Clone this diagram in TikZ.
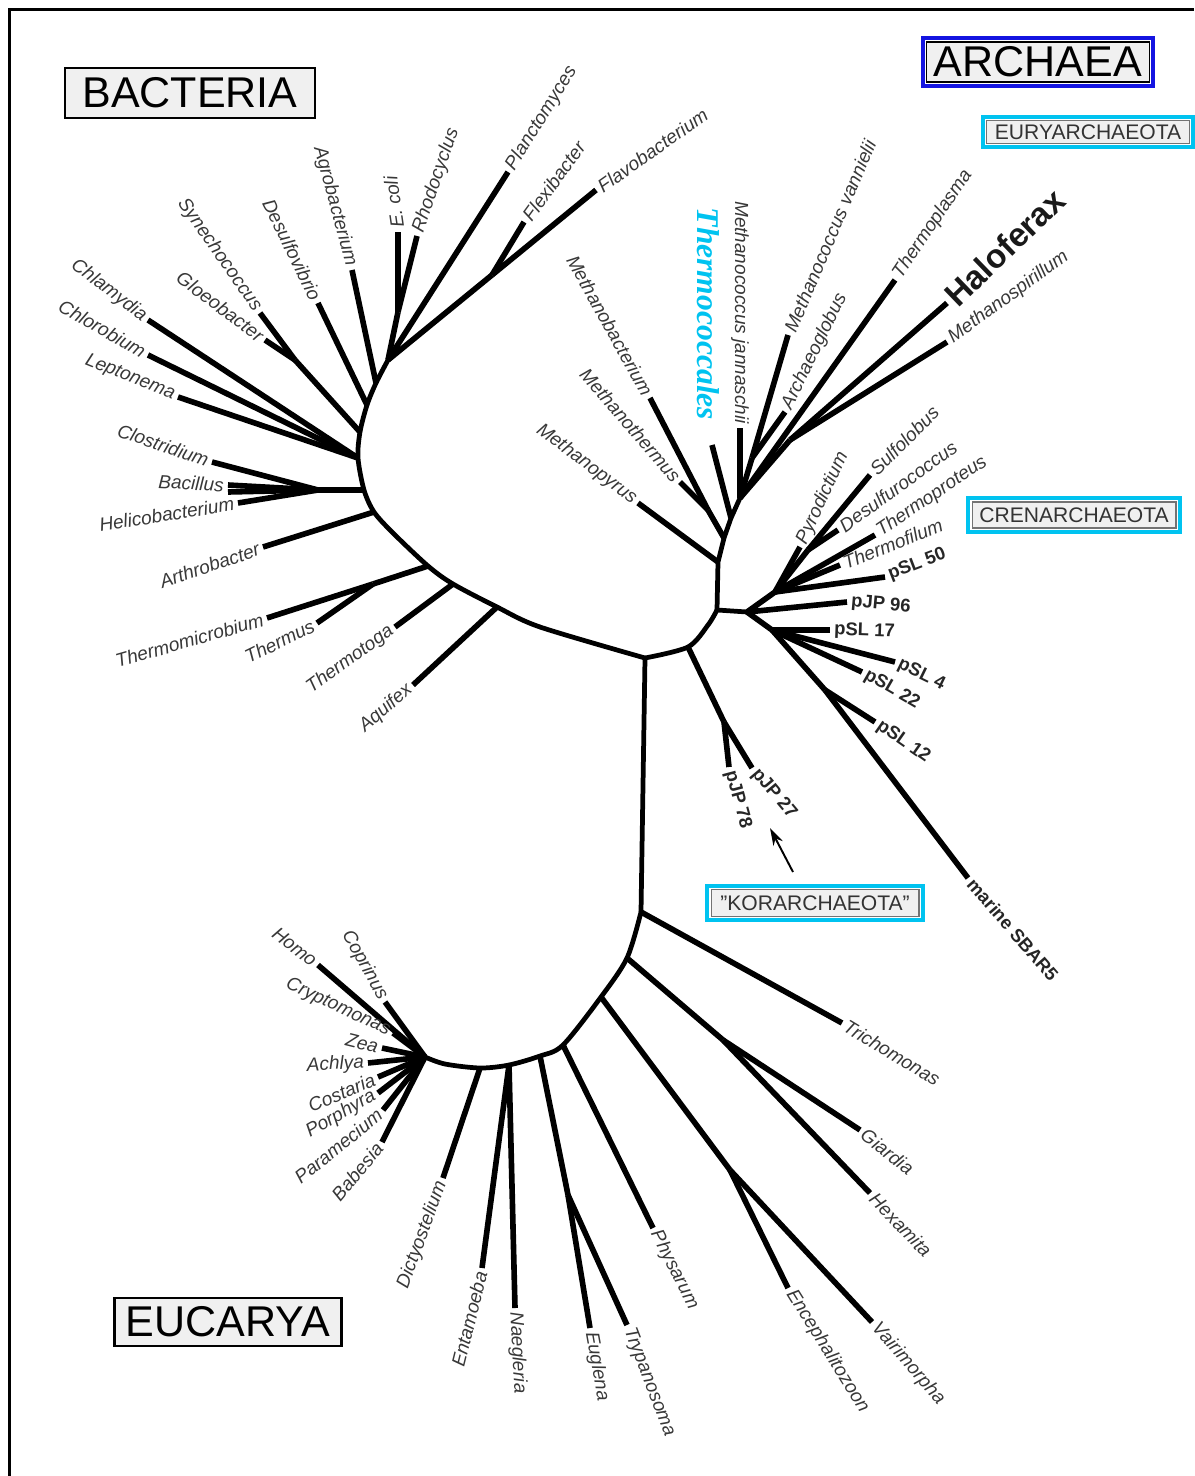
\documentclass[tikz,border=0pt]{standalone}
\usepackage{fontspec}
\setmainfont{Liberation Sans}
\newfontfamily\thermofont{Liberation Serif}
\usepackage{tikz}
\usetikzlibrary{positioning, arrows.meta, calc, fit}
\definecolor{skycyan}{RGB}{0,195,240}
\definecolor{archblue}{RGB}{20,20,225}

\begin{document}
\begin{tikzpicture}[x=0.02cm, y=-0.02cm,
    br/.style={line width=3.2pt},
    bb/.style={line width=2.7pt, line join=round},
    lab/.style={font=\fontsize{10.8}{12}\selectfont\itshape, text=black!78, inner sep=2.2pt},
    labl/.style={lab, anchor=east},
    labr/.style={lab, anchor=west},
    clone/.style={font=\fontsize{10.5}{12}\selectfont\bfseries, text=black!85, inner sep=2.2pt, anchor=west},
    halo/.style={font=\fontsize{19}{22}\selectfont\bfseries, text=black!90, inner sep=2pt, anchor=west},
    thermo/.style={font=\fontsize{18}{20}\selectfont\thermofont\bfseries\itshape, text=skycyan,
                   fill=white, inner sep=1pt},
    domainbox/.style={draw, line width=1.4pt, fill=gray!12, font=\fontsize{24.5}{28}\selectfont, inner sep=0pt},
    phylbox/.style={draw=black!55, line width=0.6pt, fill=gray!12, font=\fontsize{12}{14}\selectfont,
                    text=black!80, inner sep=0pt},
    cyanframe/.style={draw=skycyan, line width=2.3pt, inner sep=1.8pt},
    arr/.style={-{Stealth[length=10pt, width=6pt]}, line width=1.1pt}]

    \useasboundingbox (0,0) rectangle (1194,1476);
    \draw[line width=1.7pt] (9.5,1476) -- (9.5,9.5) -- (1194,9.5);

    % Domain and phylum boxes
    \node[domainbox, minimum width=5cm, minimum height=1cm] (bact) at (190,93) {BACTERIA};
    \node[domainbox, minimum width=4.54cm, minimum height=0.96cm] (euca) at (228,1322) {EUCARYA};
    \node[domainbox, line width=0.8pt, minimum width=4.46cm, minimum height=0.8cm] (arch) at (1038,62) {ARCHAEA};
    \node[draw=archblue, line width=2.3pt, inner sep=1.8pt, fit=(arch)] (archf) {};
    \node[phylbox, minimum width=4.06cm, minimum height=0.46cm] (eury) at (1088,132) {EURYARCHAEOTA};
    \node[cyanframe, fit=(eury)] (euryf) {};
    \node[phylbox, minimum width=4.08cm, minimum height=0.52cm] (cren) at (1074,515) {CRENARCHAEOTA};
    \node[cyanframe, fit=(cren)] (crenf) {};
    \node[phylbox, minimum width=4.16cm, minimum height=0.54cm] (kor) at (815,903) {\symbol{34}KORARCHAEOTA\symbol{34}};
    \node[cyanframe, fit=(kor)] (korf) {};

    % Root and bacterial arc
    \coordinate (B0) at (645,658);
    \coordinate (ba1) at (540,627);
    \coordinate (ba2) at (497,607);
    \coordinate (ba3) at (453,584);
    \coordinate (ba4) at (428,566);
    \coordinate (ba5) at (393,533);
    \coordinate (ba6) at (374,512);
    \coordinate (ba7) at (364,490);
    \coordinate (ba8) at (358,458);
    \coordinate (ba9) at (360,432);
    \coordinate (ba10) at (367,405);
    \coordinate (ba11) at (376,383);
    \coordinate (bt1) at (388,360);
    \draw[bb] plot[smooth] coordinates {(B0) (ba1) (ba2) (ba3) (ba4) (ba5) (ba6) (ba7) (ba8) (ba9) (ba10) (ba11) (bt1)};

    \coordinate (bt) at (373,584);
    \coordinate (bc) at (318,490);
    \coordinate (bs) at (295,360);
    \coordinate (be) at (398,312);
    \coordinate (bx) at (492,275);
    \draw[br] (ba4) -- (bt);
    \draw[br] (ba7) -- (bc);
    \draw[br] (ba9) -- (bs);
    \draw[br] (bt1) -- (be);
    \draw[br] (bt1) -- (bx);

    \foreach \nm/\pa/\tx/\ty/\rt/\lb in {
        chla/ba8/148/320/-37/Chlamydia, chlo/ba8/148/355/-30/Chlorobium,
        lept/ba8/178/397/-22/Leptonema, syne/bs/260/313/-55/Synechococcus,
        gloe/bs/265/340/-37/Gloeobacter, desu/ba10/318/303/-64/Desulfovibrio,
        agro/ba11/352/270/-75/Agrobacterium, clos/bc/212/462/-19/Clostridium,
        baci/bc/228/485/-3/Bacillus, heli/bc/238/503/9/Helicobacterium,
        arth/ba6/263/547/19/Arthrobacter, tmic/bt/267/618/16/Thermomicrobium,
        ther/bt/317/623/26/Thermus, ttog/ba3/395/627/36/Thermotoga,
        aqui/ba2/413/685/41/Aquifex}{
      \coordinate (\nm) at (\tx,\ty);
      \draw[br] (\pa) -- (\nm);
      \node[labl, rotate=\rt] (\nm-l) at (\nm) {\lb};
    }
    \coordinate (baci2) at (228,492);
    \draw[br] (bc) -- (baci2);

    \foreach \nm/\pa/\tx/\ty/\rt/\lb in {
        ecol/be/398/232/98/E. coli, rhod/be/417/236/71/Rhodocyclus,
        plan/bt1/508/172/58/Planctomyces, flex/bx/524/222/54/Flexibacter,
        flav/bx/596/190/35/Flavobacterium}{
      \coordinate (\nm) at (\tx,\ty);
      \draw[br] (\pa) -- (\nm);
      \node[labr, rotate=\rt] (\nm-l) at (\nm) {\lb};
    }

    % Archaeal stem
    \coordinate (ak) at (688,647);
    \coordinate (ae) at (708,625);
    \coordinate (A1) at (717,610);
    \coordinate (C0) at (747,612);
    \draw[bb] plot[smooth] coordinates {(B0) (ak) (ae) (A1)};
    \draw[bb] (A1) -- (C0);

    % Euryarchaeota
    \coordinate (ea1) at (718,562);
    \coordinate (ea2) at (724,538);
    \coordinate (ea3) at (731,518);
    \coordinate (ea4) at (740,498);
    \coordinate (em) at (708,510);
    \coordinate (ev) at (752,458);
    \coordinate (eh) at (790,440);
    \draw[bb] (A1) -- (ea1) -- (ea2) -- (ea3) -- (ea4);
    \draw[br] (ea2) -- (em);
    \draw[br] (ea4) -- (ev);
    \draw[br] (ea4) -- (eh);
    \coordinate (tcoc) at (712,445);
    \draw[br] (ea3) -- (tcoc);

    \foreach \nm/\pa/\tx/\ty/\rt/\lb in {
        mpyr/ea1/638/503/-37/Methanopyrus, mthe/em/680/482/-49/Methanothermus,
        mbac/em/650/398/-61/Methanobacterium, mjan/ea4/740/428/-90/Methanococcus jannaschii}{
      \coordinate (\nm) at (\tx,\ty);
      \draw[br] (\pa) -- (\nm);
      \node[labl, rotate=\rt] (\nm-l) at (\nm) {\lb};
    }
    \foreach \nm/\pa/\tx/\ty/\rt/\lb in {
        mvan/ev/788/335/67/Methanococcus vannielii, agl/ev/785/412/64/Archaeoglobus,
        tpla/ea4/895/280/56/Thermoplasma, mspi/eh/947/342/36/Methanospirillum}{
      \coordinate (\nm) at (\tx,\ty);
      \draw[br] (\pa) -- (\nm);
      \node[labr, rotate=\rt] (\nm-l) at (\nm) {\lb};
    }
    \coordinate (hfx) at (947,303);
    \draw[br] (eh) -- (hfx);
    \node[halo, rotate=44] (hfx-l) at (hfx) {Haloferax};
    \node[thermo, rotate=-90] (tcoc-l) at (708,314) {Thermococcales};

    % Crenarchaeota
    \coordinate (cu) at (775,592);
    \coordinate (cs) at (808,550);
    \coordinate (cl) at (772,630);
    \coordinate (cm) at (825,690);
    \draw[br] (C0) -- (cu);
    \draw[br] (cu) -- (cs);
    \draw[br] (C0) -- (cl);
    \draw[br] (cl) -- (cm);
    \foreach \nm/\pa/\tx/\ty/\rt/\lb in {
        pyro/cu/800/547/65/Pyrodictium, sulf/cs/870/475/45/Sulfolobus,
        dsfc/cs/838/530/36/Desulfurococcus, tprt/cu/875/535/34/Thermoproteus,
        tfil/cu/840/565/22/Thermofilum}{
      \coordinate (\nm) at (\tx,\ty);
      \draw[br] (\pa) -- (\nm);
      \node[labr, rotate=\rt] (\nm-l) at (\nm) {\lb};
    }

    % Korarchaeota
    \coordinate (kj) at (724,722);
    \draw[br] (ak) -- (kj);
    \foreach \nm/\pa/\tx/\ty/\rt/\lb in {
        psl50/cu/885/577/21/pSL 50, pjp96/C0/847/602/-5/pJP 96,
        psl17/cl/830/630/-2/pSL 17, psl4/cl/895/662/-26/pSL 4,
        psl22/cl/862/672/-30/pSL 22, psl12/cm/875/722/-35/pSL 12,
        sbar/cm/968/878/-49/marine SBAR5, pjp27/kj/752/768/-50/pJP 27,
        pjp78/kj/729/767/-75/pJP 78}{
      \coordinate (\nm) at (\tx,\ty);
      \draw[br] (\pa) -- (\nm);
      \node[clone, rotate=\rt] (\nm-l) at (\nm) {\lb};
    }
    \coordinate (kt) at (793,872);
    \coordinate (kh) at (770,828);
    \draw[arr] (kt) -- (kh);

    % Eucarya
    \coordinate (E0) at (641,912);
    \coordinate (ec1) at (627,958);
    \coordinate (ec2) at (601,997);
    \coordinate (ec3) at (563,1045);
    \coordinate (ec4) at (540,1056);
    \coordinate (ec5) at (509,1065);
    \coordinate (ec6) at (480,1068);
    \coordinate (ec7) at (445,1064);
    \coordinate (EL) at (425,1057);
    \draw[bb] (B0) -- (E0);
    \draw[bb] plot[smooth] coordinates {(E0) (ec1) (ec2) (ec3) (ec4) (ec5) (ec6) (ec7) (EL)};
    \coordinate (eg) at (723,1040);
    \coordinate (ev2) at (730,1170);
    \coordinate (eu) at (568,1195);
    \draw[br] (ec1) -- (eg);
    \draw[br] (ec2) -- (ev2);
    \draw[br] (ec4) -- (eu);

    \foreach \nm/\pa/\tx/\ty/\rt/\lb in {
        tric/E0/842/1023/-31/Trichomonas, giar/eg/860/1130/-38/Giardia,
        hexa/eg/870/1193/-46/Hexamita, vair/ev2/872/1322/-49/Vairimorpha,
        ence/ev2/788/1288/-58/Encephalitozoon, phys/ec3/653/1228/-63/Physarum,
        eugl/eu/590/1328/-80/Euglena, tryp/eu/627/1325/-69/Trypanosoma,
        naeg/ec5/515/1308/-87/Naegleria}{
      \coordinate (\nm) at (\tx,\ty);
      \draw[br] (\pa) -- (\nm);
      \node[labr, rotate=\rt] (\nm-l) at (\nm) {\lb};
    }
    \foreach \nm/\pa/\tx/\ty/\rt/\lb in {
        enta/ec5/482/1268/76/Entamoeba, dict/ec6/443/1178/70/Dictyostelium,
        homo/EL/318/965/-38/Homo, copr/EL/385/1002/-61/Coprinus,
        cryp/EL/393/1033/-25/Cryptomonas, zea/EL/382/1048/-14/Zea,
        achl/EL/368/1063/3/Achlya, cost/EL/378/1077/23/Costaria,
        porp/EL/378/1093/30/Porphyra, para/EL/383/1110/39/Paramecium,
        babe/EL/382/1142/50/Babesia}{
      \coordinate (\nm) at (\tx,\ty);
      \draw[br] (\pa) -- (\nm);
      \node[labl, rotate=\rt] (\nm-l) at (\nm) {\lb};
    }

\end{tikzpicture}
\end{document}
